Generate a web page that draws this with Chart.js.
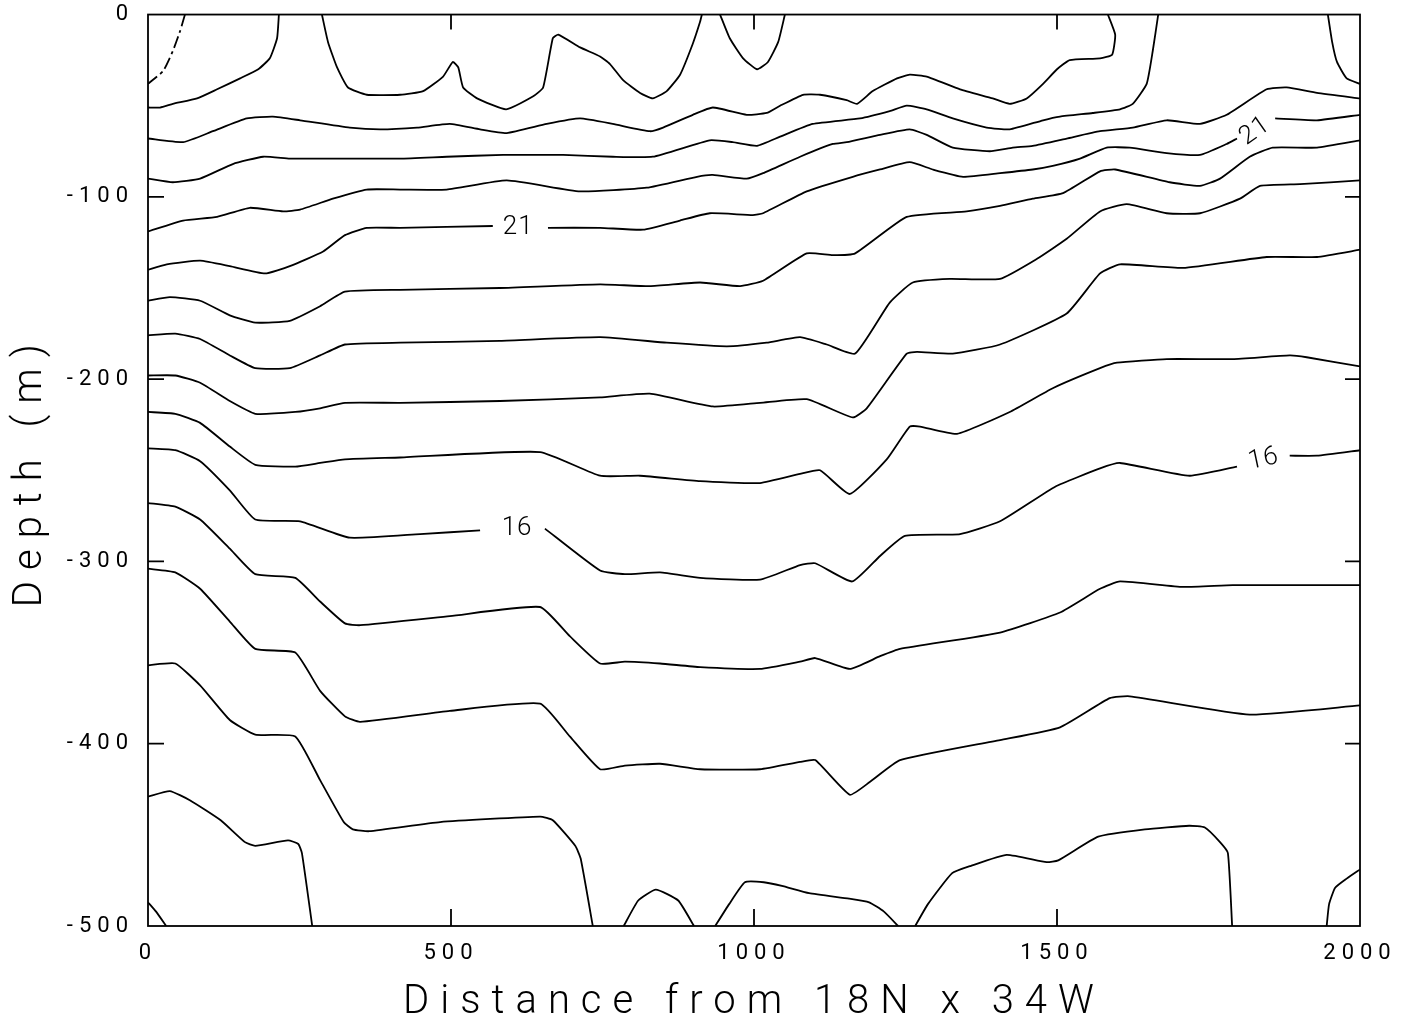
<!DOCTYPE html>
<html><head><meta charset="utf-8">
<script src="https://cdn.jsdelivr.net/npm/chart.js@4.4.1/dist/chart.umd.min.js"></script>
<style>html,body{margin:0;padding:0;background:#fff;}canvas{display:block;}</style>
</head><body>
<canvas id="c" width="1413" height="1021"></canvas>
<script>
// ---- axis definitions ----
const xTicks = [0, 500, 1000, 1500, 2000];
const yTicks = [0, -100, -200, -300, -400, -500];
const xInnerTicks = [500, 1000, 1500];
const yInnerTicks = [-100, -200, -300, -400];
const xTitle = 'Distance from 18N x 34W';
const yTitle = 'Depth (m)';

// ---- contour lines: [distance, depth]; null = gap for a label ----
const contourA = [[61,0],[53,-9],[41,-20],[25,-31],[0,-38]];
const contourB = [[216,0],[213,-13],[201,-24],[182,-30],[152,-35],[114,-41],[81,-46],[41,-49],[20,-51],[0,-51]];
const contourC = [[287,0],[297,-15],[312,-29],[330,-40],[361,-44],[416,-44],[454,-42],[487,-34],[503,-26],[512,-29],[520,-40],[543,-46],[591,-52],[635,-45],[652,-40],[668,-13],[677,-11],[713,-18],[746,-23],[762,-27],[784,-36],[812,-43],[833,-46],[856,-42],[878,-33],[899,-16],[911,-4],[914,0]];
const contourU = [[944,0],[960,-13],[982,-24],[1005,-30],[1023,-26],[1040,-15],[1051,0]];
const contourD = [[0,-68],[58,-70],[107,-64],[163,-57],[206,-56],[251,-58],[333,-62],[383,-63],[444,-62],[498,-60],[548,-63],[592,-65],[658,-60],[713,-57],[767,-60],[828,-64],[850,-62],[899,-55],[932,-51],[988,-55],[1021,-54],[1043,-50],[1081,-44],[1109,-44],[1153,-47],[1170,-49],[1196,-42],[1236,-35],[1257,-33],[1285,-34],[1340,-41],[1394,-46],[1422,-49],[1450,-46],[1477,-38],[1500,-30],[1521,-25],[1571,-24],[1591,-22],[1596,-11],[1584,0]];
const contourE = [[0,-90],[41,-92],[86,-90],[140,-82],[190,-78],[234,-79],[305,-79],[416,-79],[493,-78],[586,-77],[685,-77],[767,-78],[833,-78],[927,-69],[965,-70],[1005,-72],[1043,-67],[1097,-60],[1175,-57],[1224,-53],[1252,-50],[1285,-52],[1328,-57],[1384,-62],[1422,-63],[1477,-58],[1505,-56],[1559,-54],[1604,-52],[1625,-49],[1648,-38],[1658,-20],[1667,0]];
const contourF = [[0,-119],[58,-113],[114,-111],[168,-106],[223,-108],[251,-107],[305,-101],[361,-96],[416,-96],[493,-96],[592,-91],[713,-97],[823,-95],[906,-89],[932,-88],[988,-90],[1015,-87],[1076,-78],[1130,-71],[1153,-70],[1208,-66],[1257,-63],[1285,-66],[1328,-73],[1389,-75],[1427,-73],[1460,-72],[1516,-68],[1571,-64],[1625,-62],[1681,-58],[1736,-60],[1780,-55],[1846,-41],[1879,-40],[1929,-43],[2000,-46]];
const contourG = [[0,-140],[31,-137],[86,-135],[135,-138],[193,-142],[234,-138],[289,-130],[325,-121],[361,-117],[416,-117],[569,-116],null,[660,-117],[746,-117],[817,-118],[878,-113],[927,-109],[998,-110],[1015,-109],[1087,-97],[1163,-89],[1208,-85],[1257,-81],[1295,-85],[1345,-89],[1406,-87],[1460,-85],[1493,-83],[1538,-79],[1582,-73],[1620,-73],[1681,-76],[1736,-77],[1780,-71],[1797,-68],null,[1860,-57],[1929,-58],[2000,-55]];
const contourH = [[0,-157],[36,-155],[86,-157],[135,-165],[177,-169],[234,-168],[284,-160],[325,-152],[416,-151],[581,-150],[746,-148],[828,-149],[911,-147],[977,-149],[1015,-146],[1087,-131],[1130,-132],[1167,-131],[1252,-111],[1351,-108],[1406,-105],[1460,-101],[1510,-98],[1571,-86],[1596,-85],[1686,-92],[1736,-94],[1769,-90],[1818,-78],[1856,-73],[1929,-73],[2000,-69]];
const contourI = [[0,-176],[45,-175],[86,-178],[135,-187],[177,-194],[234,-194],[284,-187],[325,-181],[416,-180],[581,-179],[746,-177],[856,-180],[955,-182],[1021,-180],[1076,-177],[1120,-181],[1167,-186],[1224,-158],[1262,-147],[1323,-145],[1406,-145],[1467,-134],[1516,-123],[1571,-108],[1615,-104],[1681,-109],[1736,-109],[1802,-101],[1835,-94],[1901,-93],[2000,-91]];
const contourJ = [[0,-198],[45,-198],[86,-202],[135,-212],[177,-219],[243,-218],[284,-216],[325,-213],[416,-213],[581,-212],[746,-210],[828,-208],[932,-215],[1010,-213],[1087,-211],[1163,-221],[1186,-216],[1252,-186],[1269,-185],[1328,-186],[1406,-181],[1516,-164],[1571,-142],[1604,-137],[1708,-139],[1846,-133],[1929,-133],[2000,-129]];
const contourK = [[0,-218],[45,-219],[86,-224],[135,-237],[177,-247],[243,-248],[284,-246],[325,-244],[416,-243],[647,-240],[746,-253],[812,-253],[911,-256],[1010,-257],[1076,-252],[1109,-250],[1158,-263],[1219,-244],[1257,-226],[1274,-226],[1335,-230],[1422,-218],[1493,-205],[1571,-194],[1599,-191],[1681,-189],[1790,-189],[1884,-187],[1912,-188],[2000,-193]];
const contourL = [[0,-238],[45,-239],[86,-245],[135,-261],[177,-277],[251,-278],[333,-287],[449,-285],[548,-283],null,[655,-282],[746,-305],[787,-307],[845,-306],[911,-309],[1010,-310],[1076,-302],[1101,-301],[1162,-311],[1208,-297],[1249,-286],[1340,-285],[1406,-278],[1497,-259],[1571,-249],[1604,-246],[1719,-253],[1797,-248],null,[1884,-242],[1929,-242],[2000,-239]];
const contourM = [[0,-268],[45,-270],[86,-277],[135,-293],[177,-307],[243,-309],[284,-322],[325,-334],[350,-335],[498,-330],[647,-325],[696,-341],[746,-356],[787,-355],[845,-356],[911,-358],[1010,-359],[1076,-355],[1101,-353],[1158,-359],[1208,-352],[1241,-348],[1406,-339],[1505,-328],[1571,-315],[1604,-311],[1708,-314],[1790,-313],[2000,-313]];
const contourN = [[0,-304],[45,-306],[86,-315],[135,-333],[177,-348],[243,-350],[284,-371],[325,-385],[350,-388],[498,-382],[647,-378],[696,-396],[746,-414],[787,-412],[845,-411],[911,-414],[1010,-414],[1076,-410],[1101,-409],[1158,-428],[1191,-421],[1241,-409],[1406,-398],[1505,-391],[1587,-375],[1620,-374],[1818,-384],[2000,-379]];
const contourO = [[0,-357],[45,-356],[86,-368],[135,-387],[177,-395],[243,-396],[284,-420],[323,-443],[338,-447],[365,-448],[482,-443],[647,-440],[668,-442],[705,-456],[714,-463],[734,-500]];
const contourP = [[0,-429],[36,-426],[69,-431],[120,-442],[160,-454],[177,-456],[231,-453],[248,-455],[254,-460],[271,-500]];
const contourQ = [[0,-487],[13,-492],[30,-500]];
const contourR = [[785,-500],[809,-486],[838,-480],[875,-486],[901,-500]];
const contourS = [[936,-500],[959,-488],[985,-476],[1016,-476],[1046,-478],[1091,-482],[1157,-485],[1190,-487],[1214,-492],[1238,-500]];
const contourT = [[1266,-500],[1287,-488],[1327,-471],[1358,-467],[1417,-461],[1483,-465],[1502,-464],[1568,-451],[1645,-447],[1718,-445],[1744,-446],[1769,-454],[1782,-460],[1789,-500]];
const contourV = [[1945,-500],[1949,-488],[1959,-479],[1978,-474],[2000,-469]];
const contourW = [[1947,0],[1954,-15],[1962,-26],[1978,-35],[2000,-38]];

// ---- contour labels ----
const labelTexts = ['21', '21', '16', '16'];
const labelX = [611, 1827, 609, 1841];
const labelY = [-117, -64, -282, -244];

// styles (kept apart from data)
const labelAngles = [0, -35, 0, -12];
const FONT = 'Roboto, "DejaVu Sans", sans-serif';

const contours = [contourA, contourB, contourC, contourU, contourD, contourE, contourF, contourG,
  contourH, contourI, contourJ, contourK, contourL, contourM, contourN, contourO, contourP,
  contourQ, contourR, contourS, contourT, contourV, contourW];

function splitSegments(arr) {
  const segs = []; let cur = [];
  arr.forEach(p => {
    if (p === null) { if (cur.length) segs.push(cur); cur = []; }
    else cur.push({x: p[0], y: p[1]});
  });
  if (cur.length) segs.push(cur);
  return segs;
}

const datasets = [];
contours.forEach((c, ci) => {
  splitSegments(c).forEach(seg => {
    datasets.push({
      data: seg, showLine: true, borderColor: '#000', borderWidth: 1.8,
      pointRadius: 0, pointHoverRadius: 0, tension: 0.15, fill: false,
      borderDash: ci === 0 ? [12, 4, 3, 4] : []
    });
  });
});

const framePlugin = {
  id: 'frame',
  afterUpdate(chart) {
    ['x', 'y'].forEach(id => {
      const s = chart.scales[id];
      if (s && !s._wrapTitle) {
        const orig = s.drawTitle;
        s.drawTitle = function () {
          const c = this.ctx; const prev = c.letterSpacing;
          c.letterSpacing = '11px'; orig.apply(this, arguments); c.letterSpacing = prev;
        };
        s._wrapTitle = true;
      }
    });
  },
  beforeDraw(chart) { chart.ctx.letterSpacing = '6px'; },
  afterDatasetsDraw(chart) {
    const {ctx, chartArea: a, scales: {x, y}} = chart;
    ctx.save();
    ctx.letterSpacing = '0px';
    ctx.strokeStyle = '#000'; ctx.lineWidth = 1.8;
    ctx.strokeRect(a.left, a.top, a.right - a.left, a.bottom - a.top);
    ctx.beginPath();
    yInnerTicks.forEach(v => {
      const py = y.getPixelForValue(v);
      ctx.moveTo(a.left, py); ctx.lineTo(a.left + 16, py);
      ctx.moveTo(a.right, py); ctx.lineTo(a.right - 15, py);
    });
    xInnerTicks.forEach(v => {
      const px = x.getPixelForValue(v);
      ctx.moveTo(px, a.bottom); ctx.lineTo(px, a.bottom - 17);
      ctx.moveTo(px, a.top); ctx.lineTo(px, a.top + 15);
    });
    ctx.stroke();
    ctx.fillStyle = '#000';
    ctx.font = '300 26px ' + FONT;
    ctx.textAlign = 'center'; ctx.textBaseline = 'middle';
    ctx.letterSpacing = '1px';
    labelTexts.forEach((t, i) => {
      ctx.save();
      ctx.translate(x.getPixelForValue(labelX[i]), y.getPixelForValue(labelY[i]));
      ctx.rotate(labelAngles[i] * Math.PI / 180);
      ctx.fillText(t, 0, 0);
      ctx.restore();
    });
    ctx.restore();
  }
};

new Chart(document.getElementById('c'), {
  type: 'scatter',
  data: {datasets},
  options: {
    responsive: false, animation: false, devicePixelRatio: 1,
    layout: {padding: {left: 0, top: 14, right: 53, bottom: 0}},
    plugins: {legend: {display: false}, tooltip: {enabled: false}},
    scales: {
      x: {
        type: 'linear', min: 0, max: 2000,
        afterBuildTicks: s => { s.ticks = xTicks.map(v => ({value: v})); },
        afterFit: s => { s.height = 95; },
        grid: {display: false, drawTicks: false}, border: {display: false},
        ticks: {color: '#000', padding: 14, maxRotation: 0, font: {family: FONT, size: 22, weight: 400},
                callback: v => String(v)},
        title: {display: true, text: xTitle, color: '#000', padding: {top: 0, bottom: -6},
                font: {family: FONT, size: 40, weight: 300}}
      },
      y: {
        type: 'linear', min: -500, max: 0,
        afterBuildTicks: s => { s.ticks = yTicks.map(v => ({value: v})); },
        afterFit: s => { s.width = 148; },
        grid: {display: false, drawTicks: false}, border: {display: false},
        ticks: {color: '#000', padding: 14, font: {family: FONT, size: 22, weight: 400, lineHeight: 0.05},
                callback: v => String(v)},
        title: {display: true, text: yTitle, color: '#000', padding: {top: 7, bottom: 0},
                font: {family: FONT, size: 40, weight: 300}}
      }
    }
  },
  plugins: [framePlugin]
});
</script>
</body></html>
